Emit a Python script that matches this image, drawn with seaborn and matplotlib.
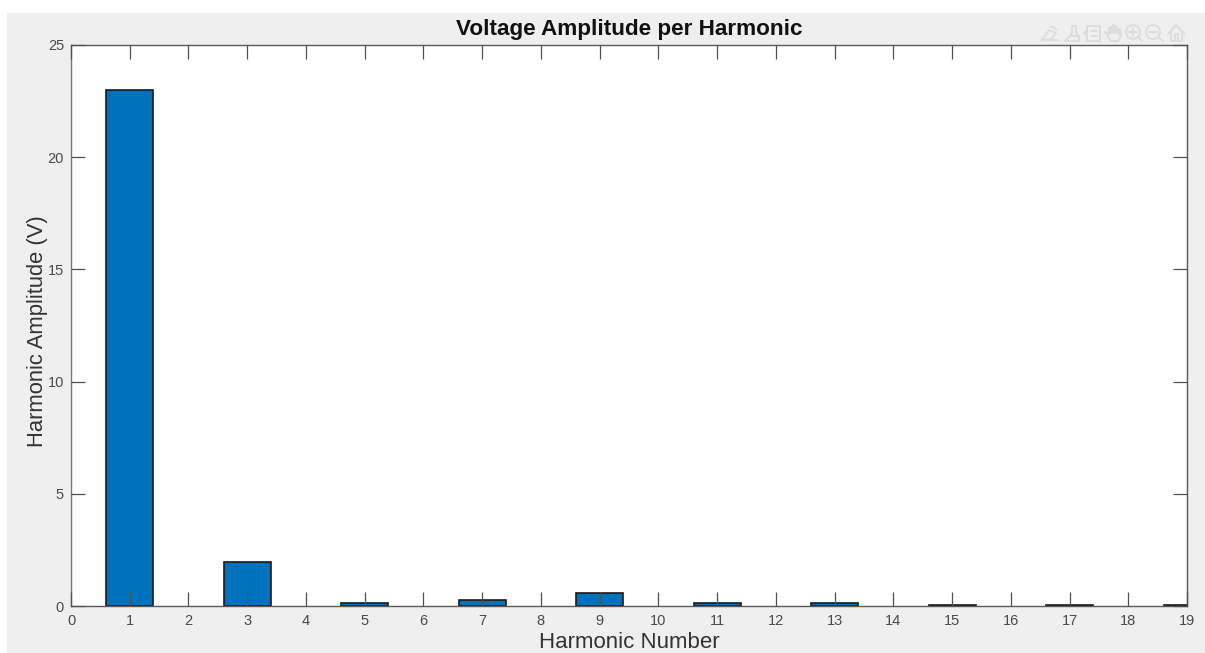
import matplotlib
matplotlib.use("Agg")
import matplotlib.pyplot as plt
from matplotlib.patches import Rectangle, Ellipse
import seaborn as sns

harmonics = [1, 3, 5, 7, 9, 11, 13, 15, 17, 19]
amplitudes = [23.0, 1.95, 0.15, 0.25, 0.6, 0.15, 0.15, 0.05, 0.05, 0.05]
x_ticks = list(range(0, 20))
y_ticks = [0, 5, 10, 15, 20, 25]

W, H = 1205, 653
BAR_BLUE = "#0072bd"
PANEL = "#efefef"
TICK = "#505050"
ICON = "#dcdcdc"

sns.set_theme(style="white")
plt.rcParams["font.family"] = ["Liberation Sans", "DejaVu Sans"]

fig = plt.figure(figsize=(W / 100, H / 100), dpi=100, facecolor="white")

# grey matlab figure panel, leaves a white strip top and left
fig.add_artist(Rectangle((7 / W, 0), (W - 7) / W, (H - 13) / H,
                         transform=fig.transFigure, facecolor=PANEL, edgecolor="none"))

ax = fig.add_axes([71 / W, (H - 606) / H, (1187 - 71) / W, (606 - 45) / H])
ax.set_facecolor("white")
ax.set_zorder(2)

sns.barplot(x=harmonics, y=amplitudes, native_scale=True, width=0.4,
            color=BAR_BLUE, saturation=1, edgecolor="#1a1a1a", linewidth=1.2,
            errorbar=None, ax=ax)

ax.set_xlim(0, 19)
ax.set_ylim(0, 25)
ax.set_xticks(x_ticks)
ax.set_yticks(y_ticks)
ax.set_axisbelow(False)
ax.tick_params(axis="both", which="major", direction="in", length=10, width=0.9,
               color=TICK, top=True, right=True, bottom=True, left=True,
               labelsize=10.5, labelcolor="#4a4a4a")
ax.tick_params(axis="x", pad=6)
ax.tick_params(axis="y", pad=5)
for s in ax.spines.values():
    s.set_visible(True)
    s.set_color("#5a5a5a")
    s.set_linewidth(1)
ax.spines["left"].set_color("#777777")

ax.set_title("Voltage Amplitude per Harmonic", fontsize=16.2, fontweight="bold",
             color="#111111", pad=7)
ax.set_xlabel("Harmonic Number", fontsize=16, color="#333333", labelpad=2.5)
ax.set_ylabel("Harmonic Amplitude (V)", fontsize=15.8, color="#333333")
ax.yaxis.set_label_coords(-0.0206, 0.49)


# faint toolbar icons, top right
def icon_line(xs, ys):
    fig.add_artist(plt.Line2D([x / W for x in xs], [1 - y / H for y in ys], color=ICON,
                              lw=1.3, transform=fig.transFigure, zorder=3))


def icon_circle(x, y, r):
    fig.add_artist(Ellipse((x / W, 1 - y / H), 2 * r / W, 2 * r / H, fill=False,
                           edgecolor=ICON, lw=1.3, transform=fig.transFigure, zorder=3))


# export
icon_line([1042, 1049, 1056, 1051, 1042], [40, 30, 33, 39, 40])
icon_line([1046, 1058], [40, 40])
icon_line([1050, 1053, 1057], [27, 27, 30])
# brush
icon_line([1071, 1072, 1072, 1076, 1076, 1079, 1079, 1065, 1071], [35, 33, 26, 26, 33, 36, 41, 41, 35])
icon_line([1071, 1078], [36, 36])
# legend box
icon_line([1087, 1100, 1100, 1087, 1087], [26, 26, 41, 41, 26])
icon_line([1084, 1087], [33, 30])
icon_line([1084, 1087], [33, 36])
icon_line([1091, 1097], [31, 31])
icon_line([1091, 1097], [36, 36])
# hand
icon_line([1105, 1109, 1109, 1120, 1121, 1118, 1111, 1105], [32, 34, 28, 30, 36, 41, 41, 32])
icon_line([1109, 1110, 1111, 1111], [34, 27, 27, 33])
icon_line([1112, 1113, 1114, 1114], [33, 25, 25, 33])
icon_line([1115, 1116, 1117, 1117], [33, 26, 26, 33])
icon_line([1118, 1119, 1120, 1120], [34, 29, 29, 35])
# zoom in
icon_circle(1133, 32, 7)
icon_line([1129, 1137], [32, 32])
icon_line([1133, 1133], [28, 36])
icon_line([1138, 1142], [37, 41])
# zoom out
icon_circle(1153, 32, 7)
icon_line([1149, 1157], [32, 32])
icon_line([1158, 1163], [37, 41])
# home
icon_line([1168, 1176, 1185], [34, 25, 34])
icon_line([1171, 1171, 1182, 1182], [32, 41, 41, 32])
icon_line([1175, 1175, 1178, 1178], [41, 34, 34, 41])

fig.savefig("out.png", dpi=100, facecolor="white")
